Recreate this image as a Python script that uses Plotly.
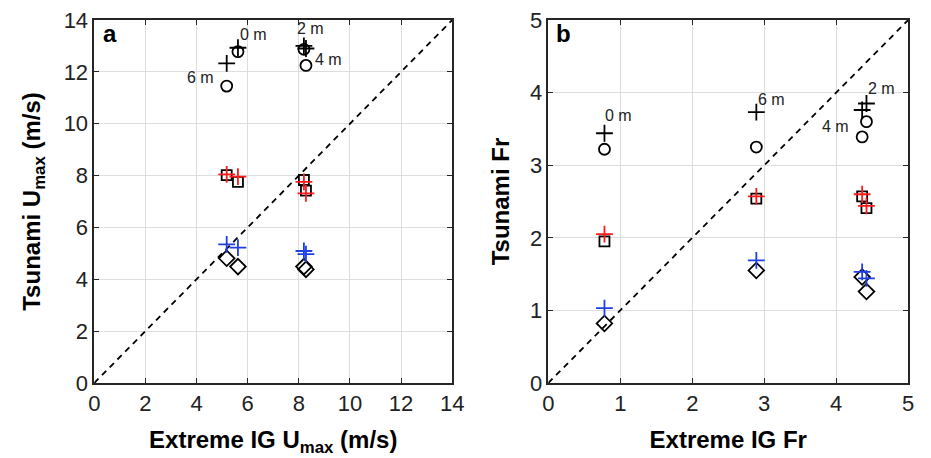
import plotly.graph_objects as go

# ---------------- data ----------------
depths = ["0 m", "2 m", "4 m", "6 m"]

# Panel a: Umax (m/s)
ig_umax = [5.62, 8.20, 8.28, 5.18]
tsu_circle_a = [12.78, 12.87, 12.25, 11.45]
tsu_plus_black_a = [12.93, 13.00, 12.90, 12.33]
tsu_plus_red_a = [7.96, 7.76, 7.31, 8.05]
tsu_square_a = [7.76, 7.83, 7.42, 8.02]
tsu_plus_blue_a = [5.22, 5.09, 4.97, 5.35]
tsu_diamond_a = [4.49, 4.49, 4.38, 4.81]

# Panel b: Froude number
ig_fr = [0.78, 4.42, 4.36, 2.89]
tsu_circle_b = [3.22, 3.60, 3.39, 3.25]
tsu_plus_black_b = [3.44, 3.85, 3.76, 3.73]
tsu_plus_red_b = [2.05, 2.44, 2.60, 2.57]
tsu_square_b = [1.95, 2.41, 2.57, 2.54]
tsu_plus_blue_b = [1.03, 1.44, 1.53, 1.69]
tsu_diamond_b = [0.82, 1.26, 1.46, 1.55]

# depth label positions (data coords)
label_a_x = [6.24, 8.46, 9.15, 4.14]
label_a_y = [13.46, 13.68, 12.48, 11.80]
label_b_x = [0.98, 4.63, 3.99, 3.10]
label_b_y = [3.68, 4.05, 3.54, 3.91]

ticks_a = [0, 2, 4, 6, 8, 10, 12, 14]
ticks_b = [0, 1, 2, 3, 4, 5]

BLUE = "#1f3fe6"
RED = "#ff1a1a"

fig = go.Figure()

def add_panel(xv, circ, pk, pr, sq, pb, dm, xa, ya, lim):
    # 1:1 dashed line
    fig.add_trace(go.Scatter(x=[0, lim], y=[0, lim], mode="lines",
                             line=dict(color="black", width=1.8, dash="6px,5px"),
                             xaxis=xa, yaxis=ya, showlegend=False, hoverinfo="skip"))
    specs = [
        (circ, "circle-open", "black", 11),
        (pk, "cross-thin-open", "black", 12),
        (sq, "square-open", "black", 10),
        (pr, "cross-thin-open", RED, 12),
        (dm, "diamond-open", "black", 12),
        (pb, "cross-thin-open", BLUE, 12),
    ]
    for yv, sym, col, sz in specs:
        fig.add_trace(go.Scatter(x=xv, y=yv, mode="markers",
                                 marker=dict(symbol=sym, size=sz, color=col,
                                             line=dict(color=col, width=1.8)),
                                 xaxis=xa, yaxis=ya, showlegend=False))

add_panel(ig_umax, tsu_circle_a, tsu_plus_black_a, tsu_plus_red_a, tsu_square_a,
          tsu_plus_blue_a, tsu_diamond_a, "x", "y", 14)
add_panel(ig_fr, tsu_circle_b, tsu_plus_black_b, tsu_plus_red_b, tsu_square_b,
          tsu_plus_blue_b, tsu_diamond_b, "x2", "y2", 5)

annotations = []
for t, x, y in zip(depths, label_a_x, label_a_y):
    annotations.append(dict(x=x, y=y, xref="x", yref="y", text=t, showarrow=False,
                            font=dict(size=16, color="#222")))
for t, x, y in zip(depths, label_b_x, label_b_y):
    annotations.append(dict(x=x, y=y, xref="x2", yref="y2", text=t, showarrow=False,
                            font=dict(size=16, color="#222")))
for txt, px, py in [("<b>a</b>", 106, 34), ("<b>b</b>", 568, 34)]:
    annotations.append(dict(x=px / 931, y=(458 - py - 75) / 363, xref="paper", yref="paper",
                            text=txt, showarrow=False, xanchor="center", yanchor="middle",
                            font=dict(size=24, color="black")))

axis_common = dict(showline=True, linecolor="#262626", linewidth=1.5, mirror="ticks",
                   ticks="inside", ticklen=5, tickwidth=1.2, tickcolor="#262626",
                   showgrid=True, gridcolor="#dedede", gridwidth=1, zeroline=False,
                   tickfont=dict(size=22, color="#222", family="Liberation Sans, Arial"))
title_font = dict(size=24, color="black", family="Liberation Sans, Arial")

fig.update_layout(
    width=931, height=458,
    margin=dict(l=0, r=0, t=20, b=75),
    paper_bgcolor="white", plot_bgcolor="white",
    font=dict(family="Liberation Sans, Arial"),
    xaxis=dict(domain=[90 / 931, 455 / 931], range=[0, 14], tickvals=ticks_a,
               title=dict(text="<b>Extreme IG U<sub>max</sub> (m/s)</b>", font=title_font, standoff=16),
               anchor="y", **axis_common),
    yaxis=dict(domain=[0, 1], range=[0, 14], tickvals=ticks_a,
               title=dict(text="<b>Tsunami U<sub>max</sub> (m/s)</b>", font=title_font, standoff=16),
               anchor="x", **axis_common),
    xaxis2=dict(domain=[553 / 931, 920 / 931], range=[0, 5], tickvals=ticks_b,
                title=dict(text="<b>Extreme IG Fr</b>", font=title_font, standoff=16),
                anchor="y2", **axis_common),
    yaxis2=dict(domain=[0, 1], range=[0, 5], tickvals=ticks_b,
                title=dict(text="<b>Tsunami Fr</b>", font=title_font, standoff=14),
                anchor="x2", **axis_common),
    annotations=annotations,
)

fig.write_html("out.html")
